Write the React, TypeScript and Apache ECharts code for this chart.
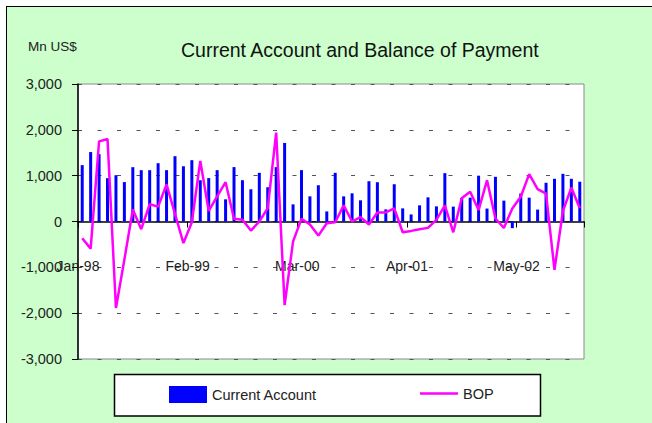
import React, { useEffect, useRef } from "react";
import * as echarts from "echarts";

const MONTHS = ["Jan", "Feb", "Mar", "Apr", "May", "Jun", "Jul", "Aug", "Sep", "Oct", "Nov", "Dec"];
const YEARS = ["98", "99", "00", "01", "02"];
const categories = YEARS.flatMap((y) => MONTHS.map((m) => `${m}-${y}`));

const currentAccount = [
  1230, 1515, 1470, 945, 1010, 860, 1185, 1120, 1120, 1272, 1120, 1425,
  1205, 1338, 900, 947, 1120, 484, 1187, 901, 703, 1062, 747, 1187,
  1714, 374, 1121, 549, 791, 220, 1062, 549, 615, 462, 879, 857,
  264, 813, 286, 154, 352, 527, 330, 1055, 325, 515, 520, 1000,
  282, 975, 455, -145, 610, 520, 260, 845, 932, 1040, 932, 868,
];

const bop = [
  -365, -592, 1748, 1800, -1887, -830, 263, -168, 376, 325, 808, 168,
  -472, -15, 1323, 230, 549, 857, 59, 37, -198, 0, 293, 1941,
  -1824, -440, 59, -66, -308, -37, -15, 352, 0, 95, -66, 198,
  198, 286, -234, -205, -168, -139, 37, 352, -235, 505, 648, 250,
  900, 65, -141, 285, 540, 1035, 705, 607, -1055, 230, 740, 290,
];

const FONT = "'Liberation Sans', Arial, Helvetica, sans-serif";
const TXT = "#222222";

export default function App() {
  const ref = useRef<HTMLDivElement>(null);

  useEffect(() => {
    if (!ref.current) return;
    const chart = echarts.init(ref.current, undefined, { renderer: "svg" });
    chart.setOption({
      animation: false,
      textStyle: { fontFamily: FONT },
      title: [
        {
          text: "Current Account and Balance of Payment",
          left: 176,
          top: 35,
          textStyle: { fontSize: 19.5, fontWeight: "normal", color: "#111", fontFamily: FONT },
        },
        {
          text: "Mn US$",
          left: 23,
          top: 34,
          textStyle: { fontSize: 13.5, fontWeight: "normal", color: TXT, fontFamily: FONT },
        },
      ],
      graphic: [
        {
          type: "rect",
          z: 0,
          shape: { x: 114.5, y: 374.5, width: 426, height: 41.5 },
          style: { fill: "#ffffff", stroke: "#000000", lineWidth: 1.5 },
        },
      ],
      legend: [
        {
          data: [{ name: "Current Account", icon: "rect" }],
          left: 169,
          top: 386,
          padding: 0,
          itemWidth: 38,
          itemHeight: 17,
          textStyle: { fontSize: 14.5, color: TXT, fontFamily: FONT },
        },
        {
          data: [{ name: "BOP", icon: "rect" }],
          left: 420,
          top: 386,
          padding: 0,
          itemWidth: 38,
          itemHeight: 2.5,
          textStyle: { fontSize: 14.5, color: TXT, fontFamily: FONT },
        },
      ],
      grid: {
        left: 78,
        top: 84,
        right: 68,
        bottom: 64,
        show: true,
        backgroundColor: "#ffffff",
        borderColor: "#8a8a8a",
        borderWidth: 1,
      },
      xAxis: {
        type: "category",
        data: categories,
        boundaryGap: true,
        axisLine: { onZero: true, lineStyle: { color: "#000", width: 1.5 } },
        axisTick: { show: true, interval: 12, length: 6, lineStyle: { color: "#000", width: 1 } },
        axisLabel: {
          interval: 12,
          margin: -100,
          fontSize: 14,
          color: TXT,
          fontFamily: FONT,
          padding: [0, 8.4, 0, 0],
        },
        splitLine: { show: false },
      },
      yAxis: {
        type: "value",
        min: -3000,
        max: 3000,
        interval: 1000,
        axisLine: { show: true, lineStyle: { color: "#000", width: 1.5 } },
        axisTick: { show: true, length: 6, lineStyle: { color: "#000", width: 1 } },
        axisLabel: {
          margin: 16,
          fontSize: 14.5,
          color: TXT,
          fontFamily: FONT,
          formatter: (v: number) => v.toLocaleString("en-US"),
        },
        splitLine: { show: true, lineStyle: { color: "#555", width: 1, type: [4, 15.5] } },
      },
      series: [
        {
          name: "Current Account",
          type: "bar",
          data: currentAccount,
          barWidth: 3,
          itemStyle: { color: "#0000FF" },
        },
        {
          name: "BOP",
          type: "line",
          data: bop,
          symbol: "none",
          z: 5,
          lineStyle: { color: "#FF00FF", width: 2.5 },
          itemStyle: { color: "#FF00FF" },
        },
      ],
    });
    return () => chart.dispose();
  }, []);

  return (
    <div style={{ position: "fixed", left: 0, top: 0, width: 652, height: 423, overflow: "hidden", background: "#ffffff" }}>
      <div
        style={{
          position: "absolute",
          left: 6,
          top: 6,
          width: 700,
          height: 500,
          background: "#CCFFCC",
          borderTop: "1.5px solid #000",
          borderLeft: "1.5px solid #000",
        }}
      />
      <div ref={ref} style={{ position: "absolute", left: 0, top: 0, width: 652, height: 423 }} />
    </div>
  );
}
